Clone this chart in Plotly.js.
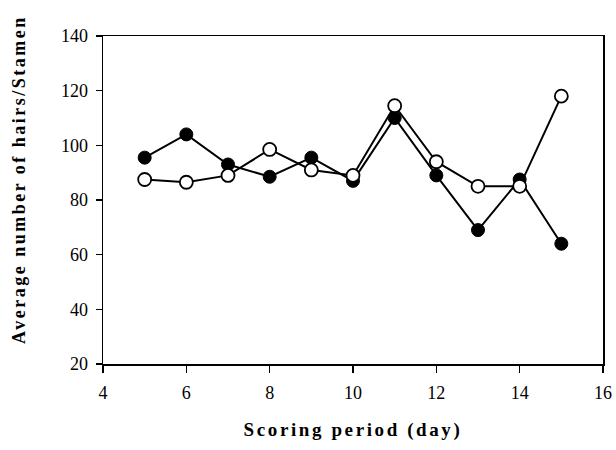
<!DOCTYPE html>
<html>
<head>
<meta charset="utf-8">
<script src="https://cdn.plot.ly/plotly-3.0.1.min.js"></script>
<style>
html,body{margin:0;padding:0;background:#fff;}
#chart{width:616px;height:450px;}
.annotation-text{letter-spacing:2.5px;}
.xtitle{letter-spacing:2.6px;}
</style>
</head>
<body>
<div id="chart"></div>
<script>
var days = [5, 6, 7, 8, 9, 10, 11, 12, 13, 14, 15];
var filledSeries = [95.5, 104, 93, 88.5, 95.5, 87, 110, 89, 69, 87.5, 64];
var openSeries = [87.5, 86.5, 89, 98.5, 91, 89, 114.5, 94, 85, 85, 118];
var xTicks = [4, 6, 8, 10, 12, 14, 16];
var yTicks = [20, 40, 60, 80, 100, 120, 140];
var xTitle = "Scoring period (day)";
var yTitle = "Average number of hairs/Stamen";

var serif = "Liberation Serif";

var traces = [
  {
    x: days, y: filledSeries, mode: "lines+markers", type: "scatter",
    line: {color: "#000", width: 2},
    marker: {symbol: "circle", size: 13, color: "#000", line: {color: "#000", width: 1}},
    showlegend: false, hoverinfo: "skip"
  },
  {
    x: days, y: openSeries, mode: "lines+markers", type: "scatter",
    line: {color: "#000", width: 2},
    marker: {symbol: "circle", size: 13, color: "#fff", line: {color: "#000", width: 1.8}},
    showlegend: false, hoverinfo: "skip"
  }
];

var layout = {
  width: 616, height: 450,
  margin: {l: 103, r: 13, t: 36, b: 86},
  paper_bgcolor: "#fff", plot_bgcolor: "#fff",
  font: {family: serif, color: "#000", size: 17},
  xaxis: {
    range: [4, 16], tickvals: xTicks, ticktext: xTicks.map(String),
    showgrid: false, zeroline: false,
    showline: true, linecolor: "#000", linewidth: 1.5, mirror: true,
    ticks: "outside", ticklen: 7, tickwidth: 1.5, tickcolor: "#000",
    ticklabelstandoff: 5,
    tickfont: {family: serif, size: 18, color: "#000"},
    title: {text: "<b>" + xTitle + "</b>", font: {family: serif, size: 19, color: "#000"}, standoff: 20}
  },
  yaxis: {
    range: [20, 140], tickvals: yTicks, ticktext: yTicks.map(String),
    showgrid: false, zeroline: false,
    showline: true, linecolor: "#000", linewidth: 1.5, mirror: true,
    ticks: "outside", ticklen: 6, tickwidth: 1.5, tickcolor: "#000",
    ticklabelstandoff: 4,
    tickfont: {family: serif, size: 18, color: "#000"}
  },
  annotations: [{
    text: "<b>" + yTitle + "</b>", textangle: -90,
    xref: "paper", yref: "paper", x: -0.168, y: 0.561,
    xanchor: "center", yanchor: "middle", showarrow: false,
    font: {family: serif, size: 18, color: "#000"}
  }]
};

Plotly.newPlot("chart", traces, layout, {staticPlot: true, displayModeBar: false});
</script>
</body>
</html>
